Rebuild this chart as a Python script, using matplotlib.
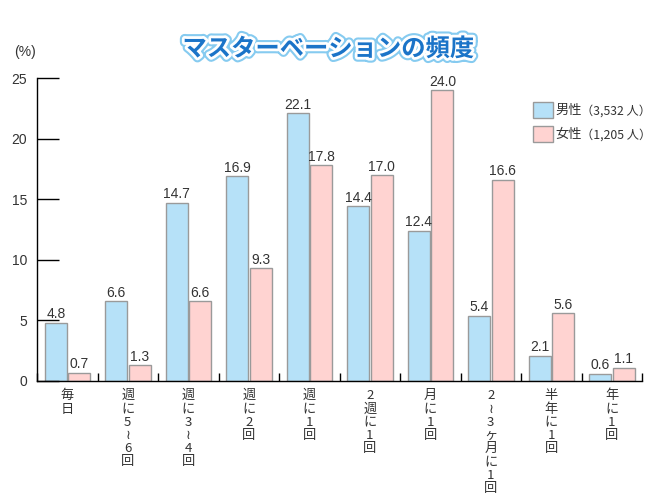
import matplotlib
matplotlib.use("Agg")
import matplotlib.pyplot as plt
import matplotlib.patheffects as pe
import numpy as np

plt.rcParams['font.family'] = ['Noto Sans CJK JP', 'DejaVu Sans']

categories = ["毎日", "週に5～6回", "週に3～4回", "週に2回", "週に1回",
              "2週に1回", "月に1回", "2～3ヶ月に1回", "半年に1回", "年に1回"]
male = [4.8, 6.6, 14.7, 16.9, 22.1, 14.4, 12.4, 5.4, 2.1, 0.6]
female = [0.7, 1.3, 6.6, 9.3, 17.8, 17.0, 24.0, 16.6, 5.6, 1.1]
series_names = ["男性", "女性"]
series_counts = ["（3,532 人）", "（1,205 人）"]
yticks = [0, 5, 10, 15, 20, 25]
title = "マスターベーションの頻度"

blue = "#b6e1f8"
pink = "#ffd3d1"
edge = "#9a9a9a"
txt = "#333333"
numfont = ['Liberation Sans', 'DejaVu Sans']

fig = plt.figure(figsize=(6.56, 5.0), dpi=100)
ax = fig.add_axes([0.0564, 0.238, 0.9223, 0.606])

x = np.arange(len(categories))
w = 0.365
ax.bar(x - 0.19, male, w, color=blue, edgecolor=edge, linewidth=1.0, label=series_names[0])
ax.bar(x + 0.2, female, w, color=pink, edgecolor=edge, linewidth=1.0, label=series_names[1])

for xi, v in zip(x - 0.19, male):
    ax.annotate(f"{v:.1f}", xy=(xi, v), xytext=(0, 1), textcoords="offset points",
                ha="center", va="bottom", fontsize=10, color=txt, family=numfont)
for xi, v in zip(x + 0.2, female):
    ax.annotate(f"{v:.1f}", xy=(xi, v), xytext=(0, 1), textcoords="offset points",
                ha="center", va="bottom", fontsize=10, color=txt, family=numfont)

ax.set_xlim(-0.5, 9.5)
ax.set_ylim(0, 25)
ax.spines['top'].set_visible(False)
ax.spines['right'].set_visible(False)
ax.spines['left'].set_linewidth(1.0)
ax.spines['bottom'].set_linewidth(1.0)

ax.set_yticks(yticks)
ax.set_yticklabels([str(t) for t in yticks], fontsize=10, color=txt, family=numfont)
ax.tick_params(axis='y', direction='in', length=16, width=1.0, pad=7)
ax.set_xticks(np.arange(-0.5, 10, 1.0))
ax.set_xticklabels([])
ax.tick_params(axis='x', direction='in', length=6, width=1.0)

for xi, c in zip(x, categories):
    s = "\n".join("≀" if ch == "～" else ch for ch in c)
    ax.annotate(s, xy=(xi, 0), xycoords=('data', 'axes fraction'), xytext=(0, -6),
                textcoords='offset points', ha='center', va='top', fontsize=9.5,
                color=txt, linespacing=1.02)

fig.text(0.022, 0.896, "(%)", fontsize=10, color=txt, ha='left', va='center', family=numfont)

t = fig.text(0.5, 0.902, title, fontsize=17.5, fontweight='bold', color="#1b74c8",
             ha='center', va='center')
t.set_path_effects([pe.Stroke(linewidth=7, foreground="#86cbf0"),
                    pe.Stroke(linewidth=4, foreground="white"),
                    pe.Normal()])

leg = ax.legend(loc='upper left', bbox_to_anchor=(0.8, 0.96), frameon=False,
                fontsize=9.5, handlelength=1.5, handleheight=1.5, handletextpad=0.2,
                labelspacing=0.6, labelcolor=txt)

fig.canvas.draw()
r = fig.canvas.get_renderer()
for lt, cnt in zip(leg.get_texts(), series_counts):
    bb = lt.get_window_extent(r)
    fig.text((bb.x1 - 1) / fig.bbox.width, (bb.y0 + bb.y1) / 2 / fig.bbox.height, cnt,
             ha='left', va='center', fontsize=8.8, color=txt)

fig.savefig("out.png", dpi=100)
